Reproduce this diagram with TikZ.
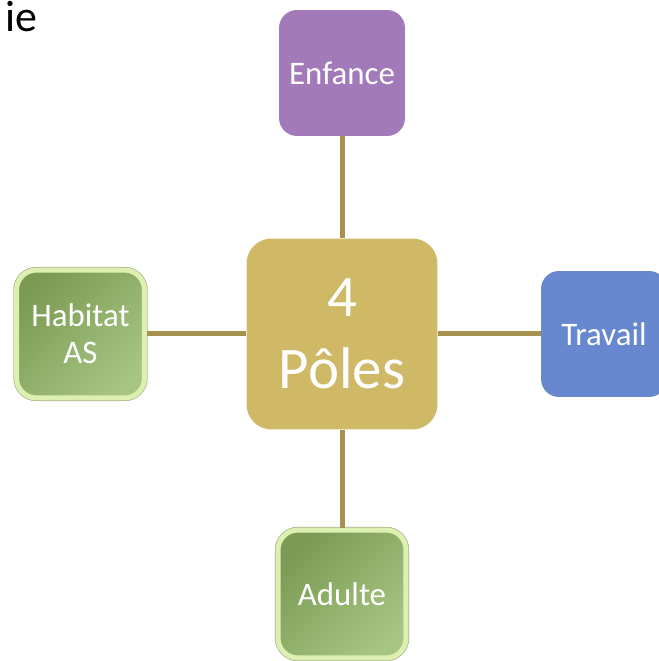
\documentclass[tikz,border=0pt]{standalone}
\usepackage{fontspec}
\setmainfont{Carlito}
\usetikzlibrary{positioning}
\definecolor{polegold}{HTML}{CFB966}
\definecolor{linkgold}{HTML}{A6904E}
\definecolor{enfpurple}{HTML}{A279B9}
\definecolor{travblue}{HTML}{6787CF}
\definecolor{greendark}{HTML}{7B9B54}
\definecolor{greenlight}{HTML}{A6C582}
\definecolor{greenrim}{HTML}{DDF0B2}
\definecolor{rimedge}{HTML}{A9B58C}

\begin{document}
\begin{tikzpicture}[x=0.02cm,y=-0.02cm,every node/.style={text=white,align=center,font=\fontsize{18.7}{21}\selectfont},
  pole/.style={rounded corners=0.5cm,fill=polegold,minimum size=3.82cm,font=\fontsize{33.5}{41}\selectfont},
  flat/.style={rounded corners=0.36cm,minimum size=2.52cm},
  leaf/.style={rounded corners=0.4cm,preaction={draw=rimedge,fill=none,line width=0.13cm},draw=greenrim,line width=0.1cm,left color=greendark,right color=greenlight,shading angle=45,minimum size=2.56cm},
  link/.style={draw=linkgold,line width=0.1cm}]
\useasboundingbox (0,0) rectangle (658,661);
\node[text=black,anchor=base west,inner sep=0pt,font=\fontsize{25}{30}\selectfont] (titre) at (5,32) {ie};
\node[pole] (poles) at (342,334) {4\\Pôles};
\node[flat,fill=enfpurple] (enf) at (342,73) {Enfance};
\node[flat,fill=travblue] (trav) at (604,334) {Travail};
\node[leaf] (hab) at (80.5,334) {Habitat\\AS};
\node[leaf] (adu) at (342,594) {Adulte};
\foreach \b in {enf,trav,hab,adu}{\draw[link] (poles)--(\b);}
\end{tikzpicture}
\end{document}
